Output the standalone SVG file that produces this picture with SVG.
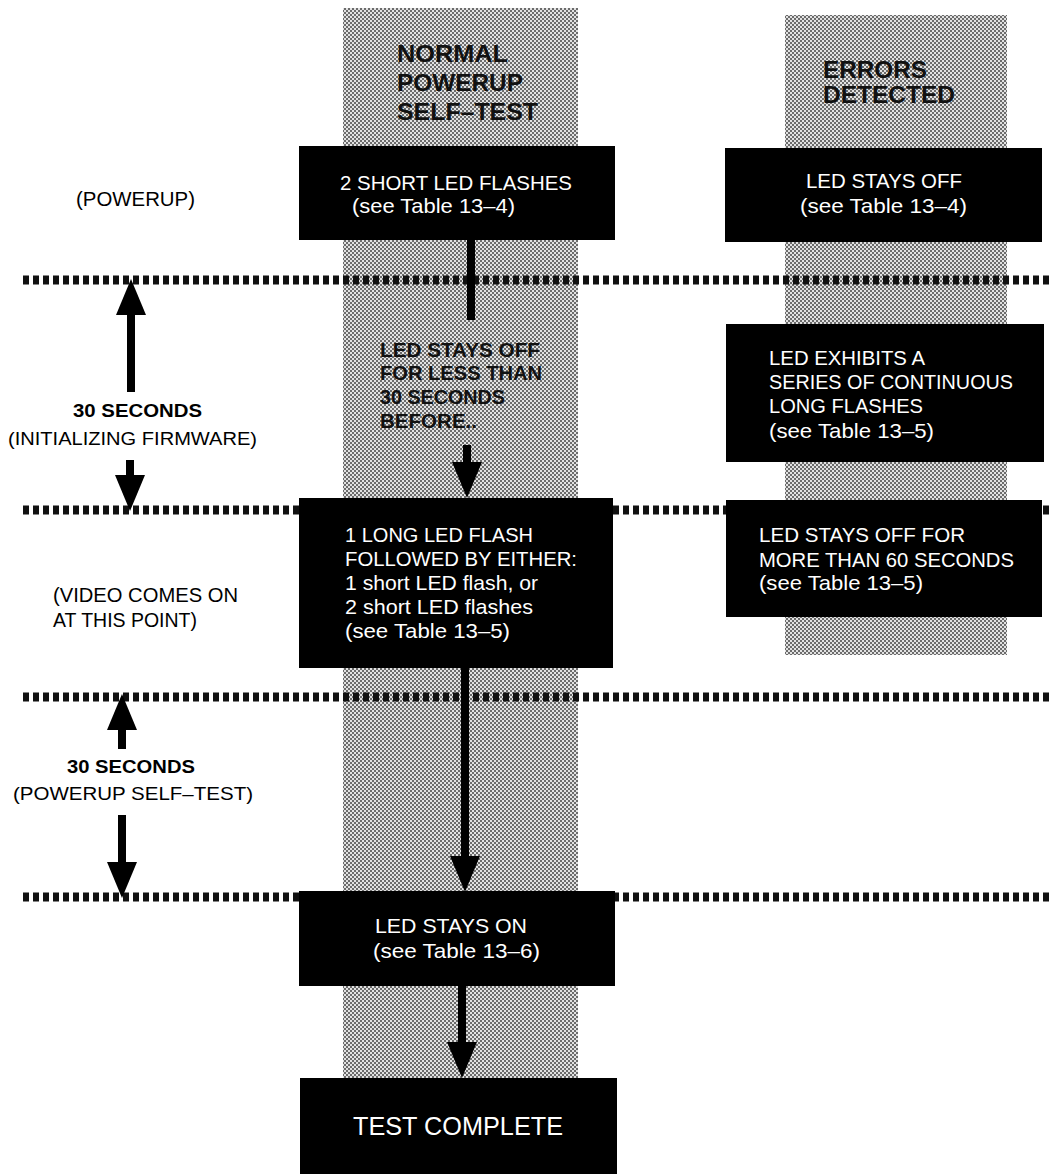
<svg xmlns="http://www.w3.org/2000/svg" width="1050" height="1174" viewBox="0 0 1050 1174">
  <defs>
    <pattern id="halftone" patternUnits="userSpaceOnUse" x="0" y="0" width="4" height="4">
      <rect width="4" height="4" fill="#e2e2e2"/>
      <rect x="0" y="0" width="2" height="2" fill="#6c6c6c"/>
      <rect x="2" y="2" width="2" height="2" fill="#6c6c6c"/>
    </pattern>
    <marker id="ah" markerUnits="userSpaceOnUse" viewBox="0 0 36 30" markerWidth="36" markerHeight="30" refX="16" refY="15" orient="auto">
      <path d="M0,0 L36,15 L0,30 Z" fill="#000"/>
    </marker>
  </defs>
  <style>
    .bg { fill: #ffffff; }
    .col { fill: url(#halftone); }
    .box { fill: #000000; }
    .dots { stroke: #111111; stroke-width: 9; stroke-dasharray: 6 4; fill: none; }
    .shaft { stroke: #000000; stroke-width: 8; fill: none; }
    .arrow { stroke: #000000; stroke-width: 8; fill: none; marker-end: url(#ah); }
    .wt { fill: #ffffff; font-family: "Liberation Sans", Arial, sans-serif; font-size: 21px; }
    .big { font-size: 25px; }
    .hd { fill: #111111; font-family: "Liberation Sans", Arial, sans-serif; font-weight: bold; font-size: 24px; }
    .hd2 { fill: #111111; font-family: "Liberation Sans", Arial, sans-serif; font-weight: bold; font-size: 20px; }
    .lbl { fill: #000000; font-family: "Liberation Sans", Arial, sans-serif; font-size: 20px; }
    .lblb { fill: #000000; font-family: "Liberation Sans", Arial, sans-serif; font-weight: bold; font-size: 18px; }
    .lbls { fill: #000000; font-family: "Liberation Sans", Arial, sans-serif; font-size: 19px; }
  </style>

  <rect class="bg" x="0" y="0" width="1050" height="1174"/>

  <!-- shaded columns -->
  <g id="columns">
    <rect class="col" x="343" y="8" width="235" height="1070"/>
    <rect class="col" x="785" y="15" width="222" height="640"/>
  </g>

  <!-- column headers -->
  <g id="header-normal">
    <text class="hd" x="397" y="62" textLength="111" lengthAdjust="spacingAndGlyphs">NORMAL</text>
    <text class="hd" x="397" y="91" textLength="126" lengthAdjust="spacingAndGlyphs">POWERUP</text>
    <text class="hd" x="397" y="120" textLength="141" lengthAdjust="spacingAndGlyphs">SELF–TEST</text>
  </g>
  <g id="header-errors">
    <text class="hd" x="823" y="78" textLength="104" lengthAdjust="spacingAndGlyphs">ERRORS</text>
    <text class="hd" x="823" y="103" textLength="132" lengthAdjust="spacingAndGlyphs">DETECTED</text>
  </g>

  <!-- time boundaries -->
  <g id="timeline">
    <line class="dots" x1="23" y1="280" x2="1050" y2="280"/>
    <line class="dots" x1="23" y1="510" x2="1050" y2="510"/>
    <line class="dots" x1="23" y1="697" x2="1050" y2="697"/>
    <line class="dots" x1="23" y1="897" x2="1050" y2="897"/>
  </g>

  <!-- left side labels and interval arrows -->
  <g id="label-powerup">
    <text class="lbl" x="76" y="206" textLength="119" lengthAdjust="spacingAndGlyphs">(POWERUP)</text>
  </g>
  <g id="interval-firmware">
    <line class="arrow" x1="131" y1="392" x2="131" y2="299"/>
    <line class="arrow" x1="130" y1="460" x2="130" y2="491"/>
    <text class="lblb" x="73" y="417" textLength="129" lengthAdjust="spacingAndGlyphs">30 SECONDS</text>
    <text class="lbls" x="8" y="445" textLength="249" lengthAdjust="spacingAndGlyphs">(INITIALIZING FIRMWARE)</text>
  </g>
  <g id="label-video">
    <text class="lbl" x="53" y="602" textLength="185" lengthAdjust="spacingAndGlyphs">(VIDEO COMES ON</text>
    <text class="lbl" x="53" y="627" textLength="144" lengthAdjust="spacingAndGlyphs">AT THIS POINT)</text>
  </g>
  <g id="interval-selftest">
    <line class="arrow" x1="122" y1="749" x2="122" y2="714"/>
    <line class="arrow" x1="122" y1="815" x2="122" y2="878"/>
    <text class="lblb" x="67" y="773" textLength="128" lengthAdjust="spacingAndGlyphs">30 SECONDS</text>
    <text class="lbls" x="13" y="800" textLength="240" lengthAdjust="spacingAndGlyphs">(POWERUP SELF–TEST)</text>
  </g>

  <!-- connectors -->
  <g id="connectors">
    <line class="shaft" x1="471" y1="240" x2="471" y2="320"/>
    <line class="arrow" x1="467" y1="445" x2="467" y2="478"/>
    <line class="arrow" x1="465" y1="668" x2="465" y2="872"/>
    <line class="arrow" x1="462" y1="986" x2="462" y2="1058"/>
  </g>

  <g id="note-before">
    <text class="hd2" x="380" y="357" textLength="160" lengthAdjust="spacingAndGlyphs">LED STAYS OFF</text>
    <text class="hd2" x="380" y="380" textLength="162" lengthAdjust="spacingAndGlyphs">FOR LESS THAN</text>
    <text class="hd2" x="380" y="404" textLength="125" lengthAdjust="spacingAndGlyphs">30 SECONDS</text>
    <text class="hd2" x="380" y="428" textLength="97" lengthAdjust="spacingAndGlyphs">BEFORE..</text>
  </g>

  <!-- nodes -->
  <g id="node-short-flashes">
    <rect class="box" x="299" y="146" width="316" height="94"/>
    <text class="wt" x="340" y="190" textLength="232" lengthAdjust="spacingAndGlyphs">2 SHORT LED FLASHES</text>
    <text class="wt" x="352" y="213" textLength="163" lengthAdjust="spacingAndGlyphs">(see Table 13–4)</text>
  </g>
  <g id="node-stays-off">
    <rect class="box" x="725" y="148" width="317" height="94"/>
    <text class="wt" x="806" y="188" textLength="156" lengthAdjust="spacingAndGlyphs">LED STAYS OFF</text>
    <text class="wt" x="800" y="213" textLength="167" lengthAdjust="spacingAndGlyphs">(see Table 13–4)</text>
  </g>
  <g id="node-continuous">
    <rect class="box" x="726" y="324" width="318" height="138"/>
    <text class="wt" x="769" y="365" textLength="156" lengthAdjust="spacingAndGlyphs">LED EXHIBITS A</text>
    <text class="wt" x="769" y="389" textLength="244" lengthAdjust="spacingAndGlyphs">SERIES OF CONTINUOUS</text>
    <text class="wt" x="769" y="413" textLength="154" lengthAdjust="spacingAndGlyphs">LONG FLASHES</text>
    <text class="wt" x="769" y="438" textLength="165" lengthAdjust="spacingAndGlyphs">(see Table 13–5)</text>
  </g>
  <g id="node-long-flash">
    <rect class="box" x="299" y="498" width="314" height="170"/>
    <text class="wt" x="345" y="542" textLength="188" lengthAdjust="spacingAndGlyphs">1 LONG LED FLASH</text>
    <text class="wt" x="345" y="566" textLength="232" lengthAdjust="spacingAndGlyphs">FOLLOWED BY EITHER:</text>
    <text class="wt" x="345" y="590" textLength="193" lengthAdjust="spacingAndGlyphs">1 short LED flash, or</text>
    <text class="wt" x="345" y="614" textLength="188" lengthAdjust="spacingAndGlyphs">2 short LED flashes</text>
    <text class="wt" x="345" y="638" textLength="165" lengthAdjust="spacingAndGlyphs">(see Table 13–5)</text>
  </g>
  <g id="node-off-60">
    <rect class="box" x="726" y="500" width="316" height="117"/>
    <text class="wt" x="759" y="542" textLength="206" lengthAdjust="spacingAndGlyphs">LED STAYS OFF FOR</text>
    <text class="wt" x="759" y="567" textLength="255" lengthAdjust="spacingAndGlyphs">MORE THAN 60 SECONDS</text>
    <text class="wt" x="759" y="590" textLength="164" lengthAdjust="spacingAndGlyphs">(see Table 13–5)</text>
  </g>
  <g id="node-stays-on">
    <rect class="box" x="299" y="891" width="316" height="95"/>
    <text class="wt" x="375" y="933" textLength="152" lengthAdjust="spacingAndGlyphs">LED STAYS ON</text>
    <text class="wt" x="373" y="958" textLength="167" lengthAdjust="spacingAndGlyphs">(see Table 13–6)</text>
  </g>
  <g id="node-test-complete">
    <rect class="box" x="300" y="1078" width="317" height="96"/>
    <text class="wt big" x="353" y="1135" textLength="210" lengthAdjust="spacingAndGlyphs">TEST COMPLETE</text>
  </g>
</svg>
